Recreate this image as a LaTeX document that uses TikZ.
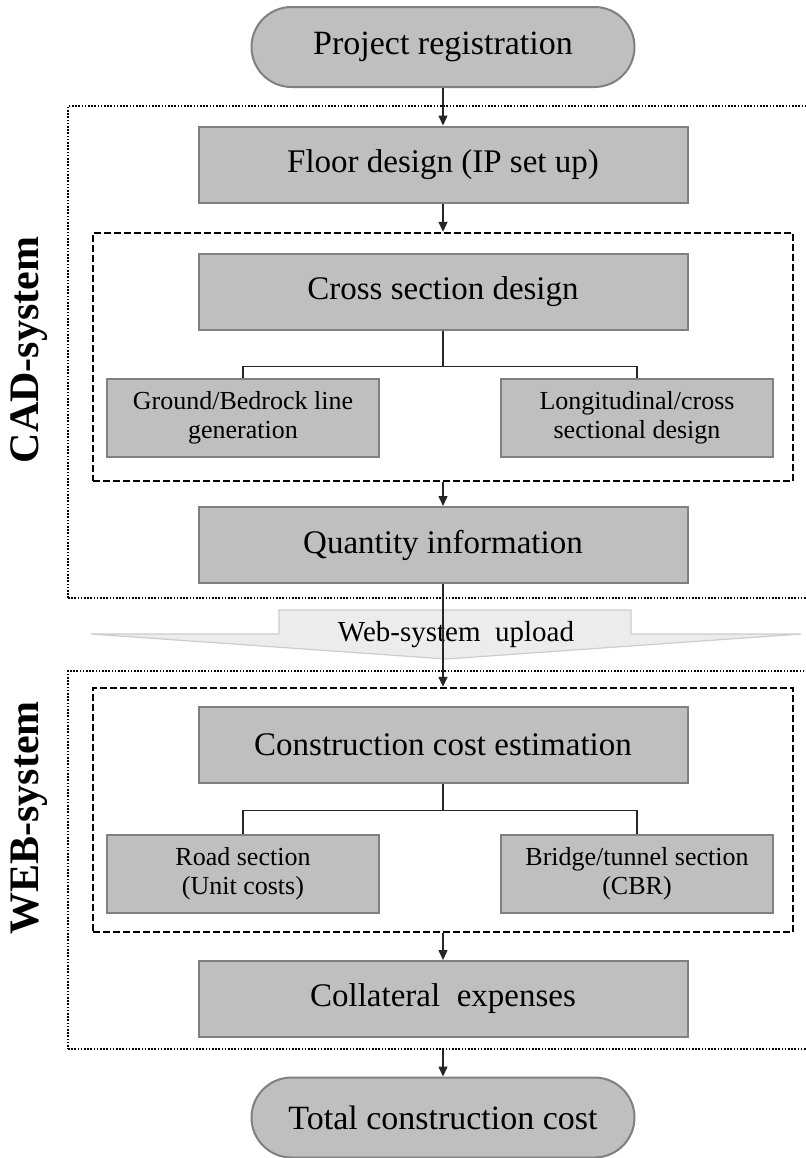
\documentclass[tikz,border=0pt]{standalone}
\usepackage{fontspec}
\setmainfont{Liberation Serif}
\usetikzlibrary{shapes,arrows.meta}

\definecolor{boxgray}{RGB}{191,191,191}
\definecolor{edgegray}{RGB}{128,128,128}
\definecolor{uploadgray}{RGB}{236,236,236}
\definecolor{uploadedge}{RGB}{205,205,205}

\begin{document}
\begin{tikzpicture} [x=0.5pt, y=-0.5pt, >={Triangle[length=5pt,width=4.5pt]},
  terminal/.style={rectangle, rounded corners=20pt, draw=edgegray, line width=1pt, fill=boxgray, minimum width=191.5pt, minimum height=40pt, font=\fontsize{17}{20}\selectfont},
  block/.style={rectangle, draw=edgegray, line width=1pt, fill=boxgray, minimum width=244.5pt, minimum height=38pt, font=\fontsize{16.5}{19}\selectfont},
  subblock/.style={rectangle, draw=edgegray, line width=1pt, fill=boxgray, minimum width=136pt, minimum height=39pt, align=center, font=\fontsize{13}{14.5}\selectfont},
  groupbox/.style={rectangle, draw, line width=1.2pt, dash pattern=on 3.5pt off 1.5pt, minimum width=350pt},
  sysbox/.style={rectangle, draw, line width=1pt, dash pattern=on 0.8pt off 0.8pt, minimum width=372pt},
  side/.style={rotate=90, font=\bfseries\fontsize{21}{24}\selectfont},
  link/.style={draw=black!85, line width=0.7pt}]
  \useasboundingbox (0,0) rectangle (806,1158);

  % System frames
  \node [sysbox, minimum height=246pt] (cad) at (440,352) {};
  \node [sysbox, minimum height=189pt] (web) at (440,860) {};
  \node [side] (cadlabel) at (29,350) {CAD-system};
  \node [side] (weblabel) at (29,818) {WEB-system};

  % Upload arrow
  \draw [fill=uploadgray, draw=uploadedge, line width=0.6pt] (279,610) -- (631,610) -- (631,634) -- (801,634) -- (446,659) -- (91,634) -- (279,634) -- cycle;
  \node [font=\fontsize{14.5}{16}\selectfont, anchor=base] (upload) at (456,641) {Web-system\hspace{0.5em}upload};

  % Design groups
  \node [groupbox, minimum height=124pt] (cadgrp) at (443,357) {};
  \node [groupbox, minimum height=122pt] (webgrp) at (443,810) {};

  % Main flow
  \node [terminal] (start) at (443,47) {Project registration};
  \node [block, below of=start, node distance=58.75pt] (floor) {Floor design (IP set up)};
  \node [block, below of=floor, node distance=63.5pt] (cross) {Cross section design};
  \node [subblock, below of=cross, node distance=63.25pt, xshift=-100pt] (ground) {Ground/Bedrock line\\generation};
  \node [subblock, below of=cross, node distance=63.25pt, xshift=97pt] (longi) {Longitudinal/cross\\sectional design};
  \node [block, below of=cross, node distance=126.75pt] (qty) {Quantity information};
  \node [block, below of=qty, node distance=99.75pt] (cost) {Construction cost estimation};
  \node [subblock, below of=cost, node distance=64.75pt, xshift=-100pt] (road) {Road section\\(Unit costs)};
  \node [subblock, below of=cost, node distance=64.75pt, xshift=97pt] (bridge) {Bridge/tunnel section\\(CBR)};
  \node [block, below of=cost, node distance=127.25pt] (extra) {Collateral\hspace{0.5em}expenses};
  \node [terminal, below of=extra, node distance=59.25pt] (total) {Total construction cost};

  % Edges
  \draw [->, link] (start) -- (floor);
  \draw [->, link] (floor) -- (cadgrp);
  \draw [link] (cross.south) -- ++(0pt,-18pt) -| (ground.north);
  \draw [link] (cross.south) -- ++(0pt,-18pt) -| (longi.north);
  \draw [->, link] (cadgrp) -- (qty);
  \draw [->, link] (qty) -- (webgrp);
  \draw [link] (cost.south) -- ++(0pt,-13.5pt) -| (road.north);
  \draw [link] (cost.south) -- ++(0pt,-13.5pt) -| (bridge.north);
  \draw [->, link] (webgrp) -- (extra);
  \draw [->, link] (total.north |- web.south) -- (total);
\end{tikzpicture}
\end{document}
